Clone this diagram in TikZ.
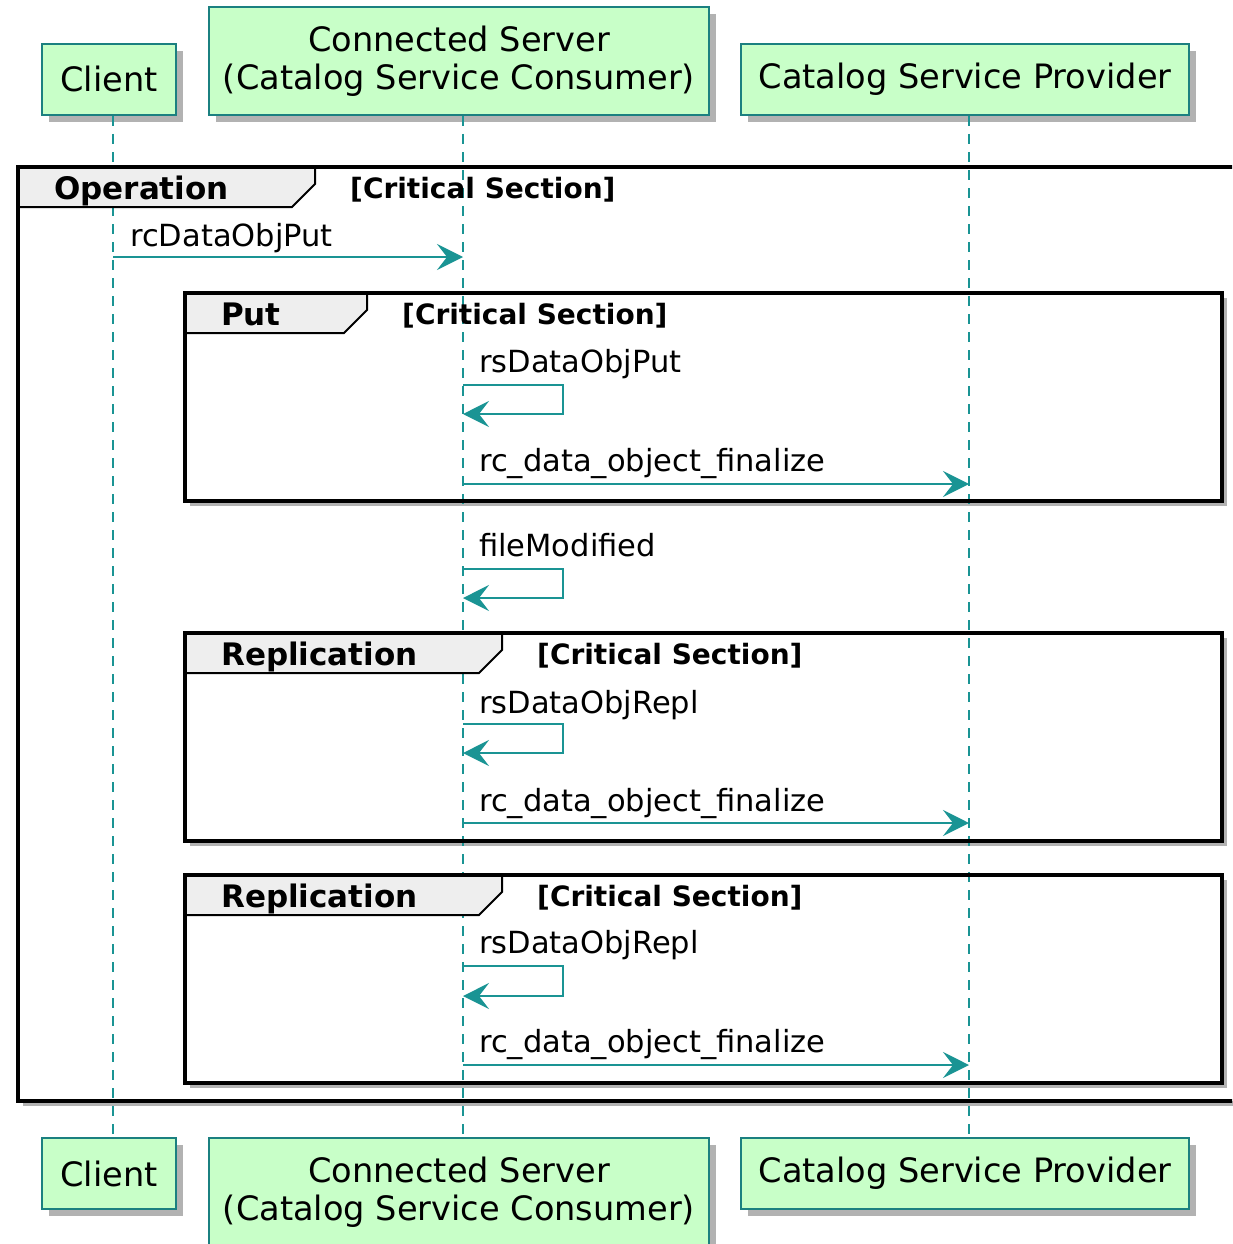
\documentclass[tikz,border=0pt]{standalone}
\usepackage{fontspec}
\setmainfont{DejaVu Sans}
\usepackage{tikz}
\usetikzlibrary{arrows.meta, positioning, shadows, calc, backgrounds}
\definecolor{menthe}{HTML}{C8FFC8}
\definecolor{bordure}{HTML}{1B8080}
\definecolor{trait}{HTML}{1A9494}
\definecolor{ongletfond}{HTML}{EEEEEE}
\tikzset{
  partic/.style={rectangle, draw=bordure, line width=2.4pt, fill=menthe,
    font=\fontsize{33.6}{38}\selectfont, align=center, inner sep=0pt,
    drop shadow={shadow xshift=7pt, shadow yshift=-7pt, opacity=0.3, fill=black}},
  cadre/.style={draw=black, line width=3.5pt},
  ombre/.style={fill=white, drop shadow={shadow xshift=5pt, shadow yshift=-5pt,
    opacity=0.3, fill=black}},
  onglet/.style={draw=black, line width=2pt, fill=ongletfond},
  titre/.style={font=\fontsize{31}{36}\selectfont\bfseries, anchor=base west, inner sep=0pt},
  crit/.style={font=\fontsize{28}{32}\selectfont\bfseries, anchor=base west, inner sep=0pt},
  vie/.style={draw=trait, line width=1.8pt, dash pattern=on 10pt off 8pt},
  msg/.style={draw=trait, line width=2pt,
    -{Stealth[length=26pt, width=26pt, inset=10pt]}},
  etiq/.style={font=\fontsize{30.5}{34}\selectfont, anchor=base west, inner sep=0pt}
}

\begin{document}
\begin{tikzpicture}[x=1pt, y=-1pt]
    \useasboundingbox (0,0) rectangle (1232,1244);
    \clip (0,0) rectangle (1232,1244);

    % Participants (haut et bas)
    \foreach \x/\id/\txt/\w/\h in {109/cli/Client/134/71,
        459/srv/{Connected Server\\(Catalog Service Consumer)}/500/108,
        965/fou/Catalog Service Provider/448/71} {
      \node[partic, anchor=south, minimum width=\w, minimum height=\h] (\id-h) at (\x, 116) {\txt};
      \node[partic, anchor=north, minimum width=\w, minimum height=\h] (\id-b) at (\x, 1137) {\txt};
    }

    % Lignes de vie
    \foreach \id/\x in {cli/113, srv/463, fou/969} {
      \coordinate (v-\id) at (\x, 0);
      \draw[vie] (\id-h.south -| v-\id) -- (\id-b.north -| v-\id);
    }

    % Groupes
    \foreach \g/\gx/\gy/\dx/\dy/\tx/\nom in {op/18/167/1260/1101/315/Operation,
        put/185/293/1222/501/367/Put,
        rep1/185/633/1222/841/502/Replication,
        rep2/185/875/1222/1083/502/Replication} {
      \begin{scope}[on background layer]
        \fill[ombre] (\gx, \gy) rectangle (\dx, \dy);
      \end{scope}
      \draw[onglet] (\gx, \gy) -- (\tx, \gy) -- (\tx, \gy+17) -- (\tx-23, \gy+40)
        -- (\gx, \gy+40) -- cycle;
      \draw[cadre] (\gx, \gy) rectangle (\dx, \dy);
      \node[titre] (nom-\g) at (\gx+36, \gy+32) {\nom};
      \node[crit] (crit-\g) at (\tx+35, \gy+31) {[Critical Section]};
    }

    % Messages
    \draw[msg] (v-cli |- 0,257) -- (v-srv |- 0,257);
    \node[etiq] (m1) at (130, 246) {rcDataObjPut};

    \draw[msg] (v-srv |- 0,385) -| (563, 414) -- (v-srv |- 0,414);
    \node[etiq] (m2) at (479, 372) {rsDataObjPut};
    \draw[msg] (v-srv |- 0,484) -- (v-fou |- 0,484);
    \node[etiq] (m3) at (479, 471) {rc\_data\_object\_finalize};

    \draw[msg] (v-srv |- 0,569) -| (563, 598) -- (v-srv |- 0,598);
    \node[etiq] (m4) at (479, 556) {fileModified};

    \draw[msg] (v-srv |- 0,724) -| (563, 753) -- (v-srv |- 0,753);
    \node[etiq] (m5) at (479, 713) {rsDataObjRepl};
    \draw[msg] (v-srv |- 0,823) -- (v-fou |- 0,823);
    \node[etiq] (m6) at (479, 811) {rc\_data\_object\_finalize};

    \draw[msg] (v-srv |- 0,966) -| (563, 996) -- (v-srv |- 0,996);
    \node[etiq] (m7) at (479, 953) {rsDataObjRepl};
    \draw[msg] (v-srv |- 0,1065) -- (v-fou |- 0,1065);
    \node[etiq] (m8) at (479, 1052) {rc\_data\_object\_finalize};
\end{tikzpicture}
\end{document}
